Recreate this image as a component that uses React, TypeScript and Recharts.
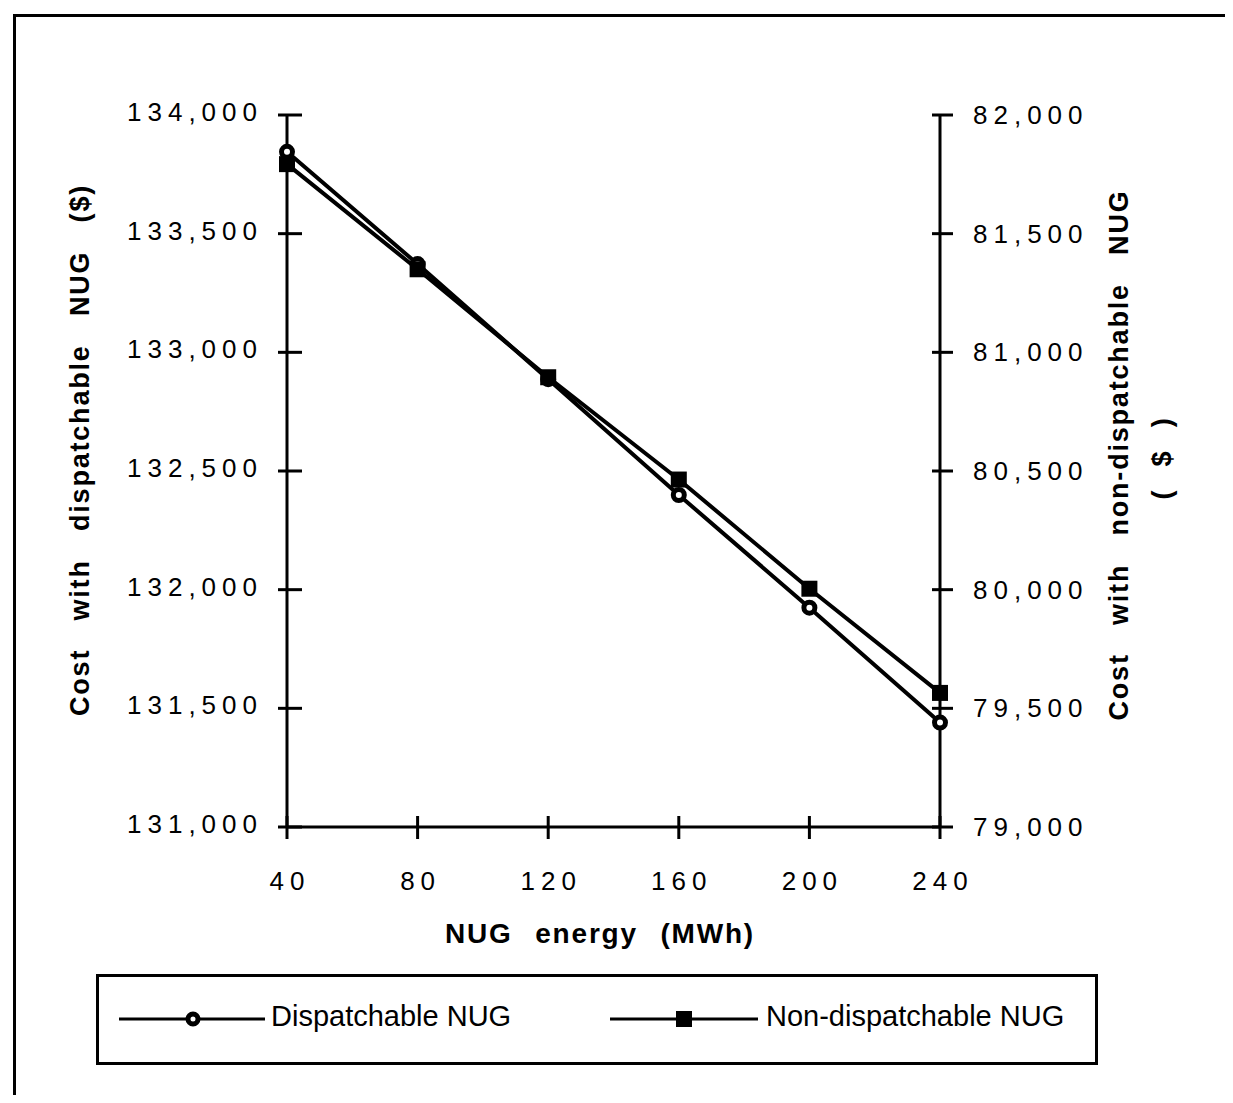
import React from "react";
import { LineChart, Line, XAxis, YAxis, Label } from "recharts";

const energy = [40, 80, 120, 160, 200, 240];
const dispatchable = [133845, 133372, 132887, 132399, 131924, 131440];
const nonDispatchable = [81793, 81350, 80895, 80464, 80004, 79565];

const leftTicks = [131000, 131500, 132000, 132500, 133000, 133500, 134000];
const rightTicks = [79000, 79500, 80000, 80500, 81000, 81500, 82000];

const data = energy.map((e, i) => ({
  energy: e,
  dispatchable: dispatchable[i],
  nonDispatchable: nonDispatchable[i],
}));

const FONT = '"Liberation Sans", Arial, sans-serif';
const fmt = (v: number) => v.toLocaleString("en-US");

function LeftTick({ x, y, payload }: any) {
  return (
    <g>
      <line x1={x - 9} x2={x + 15} y1={y} y2={y} stroke="#000" strokeWidth={3} />
      <text x={x - 24} y={y} dy={6} textAnchor="end" fontFamily={FONT} fontSize={26} letterSpacing={6} fill="#000">
        {fmt(payload.value)}
      </text>
    </g>
  );
}

function RightTick({ x, y, payload }: any) {
  return (
    <g>
      <line x1={x - 8} x2={x + 13} y1={y} y2={y} stroke="#000" strokeWidth={3} />
      <text x={x + 33} y={y} dy={9} textAnchor="start" fontFamily={FONT} fontSize={26} letterSpacing={6} fill="#000">
        {fmt(payload.value)}
      </text>
    </g>
  );
}

function BottomTick({ x, y, payload }: any) {
  return (
    <g>
      <line x1={x} x2={x} y1={y - 11} y2={y + 12} stroke="#000" strokeWidth={3} />
      <text x={x + 3} y={y} dy={63} textAnchor="middle" fontFamily={FONT} fontSize={26} letterSpacing={6} fill="#000">
        {payload.value}
      </text>
    </g>
  );
}

function CircleDot({ cx, cy }: any) {
  return <circle cx={cx} cy={cy} r={5.5} fill="#fff" stroke="#000" strokeWidth={5} />;
}

function SquareDot({ cx, cy }: any) {
  return <rect x={cx - 8} y={cy - 8} width={16} height={16} fill="#000" />;
}

const titleStyle = {
  fontFamily: FONT,
  fontSize: 27,
  fontWeight: 700,
  letterSpacing: 1.8,
  wordSpacing: 13,
};

export default function App() {
  return (
    <div style={{ position: "relative", width: 1233, height: 1103, margin: -8, background: "#fff", overflow: "hidden" }}>
      <div
        style={{
          position: "absolute",
          left: 13,
          top: 14,
          width: 1300,
          height: 1200,
          borderTop: "3px solid #000",
          borderLeft: "3px solid #000",
        }}
      />
      <div style={{ position: "absolute", left: 0, top: 0 }}>
        <LineChart width={1233} height={1103} data={data} margin={{ top: 115, left: 137, right: 143, bottom: 216 }}>
          <XAxis
            dataKey="energy"
            type="number"
            domain={[40, 240]}
            ticks={energy}
            tick={<BottomTick />}
            tickSize={0}
            tickMargin={0}
            tickLine={false}
            axisLine={{ stroke: "#000", strokeWidth: 3 }}
            height={60}
          >
            <Label
              content={() => (
                <text x={600} y={943} textAnchor="middle" fill="#000" style={{ ...titleStyle, fontSize: 28 }}>
                  NUG energy (MWh)
                </text>
              )}
            />
          </XAxis>
          <YAxis
            yAxisId="left"
            orientation="left"
            domain={[131000, 134000]}
            ticks={leftTicks}
            tick={<LeftTick />}
            tickSize={0}
            tickMargin={0}
            tickLine={false}
            axisLine={{ stroke: "#000", strokeWidth: 3 }}
            width={150}
          >
            <Label
              content={() => (
                <text
                  transform="translate(89,450) rotate(-90)"
                  textAnchor="middle"
                  fill="#000"
                  style={{ ...titleStyle, wordSpacing: 19 }}
                >
                  Cost with dispatchable NUG ($)
                </text>
              )}
            />
          </YAxis>
          <YAxis
            yAxisId="right"
            orientation="right"
            domain={[79000, 82000]}
            ticks={rightTicks}
            tick={<RightTick />}
            tickSize={0}
            tickMargin={0}
            tickLine={false}
            axisLine={{ stroke: "#000", strokeWidth: 3 }}
            width={150}
          >
            <Label
              content={() => (
                <g>
                  <text
                    transform="translate(1128,455) rotate(-90)"
                    textAnchor="middle"
                    fill="#000"
                    style={{ ...titleStyle, wordSpacing: 19 }}
                  >
                    Cost with non-dispatchable NUG
                  </text>
                  <text transform="translate(1171,458) rotate(-90)" textAnchor="middle" fill="#000" style={titleStyle}>
                    ( $ )
                  </text>
                </g>
              )}
            />
          </YAxis>
          <Line
            yAxisId="left"
            dataKey="dispatchable"
            stroke="#000"
            strokeWidth={4}
            dot={<CircleDot />}
            activeDot={false}
            isAnimationActive={false}
          />
          <Line
            yAxisId="right"
            dataKey="nonDispatchable"
            stroke="#000"
            strokeWidth={4}
            dot={<SquareDot />}
            activeDot={false}
            isAnimationActive={false}
          />
        </LineChart>
      </div>
      <div
        style={{
          position: "absolute",
          left: 96,
          top: 974,
          width: 996,
          height: 85,
          border: "3px solid #000",
          fontFamily: FONT,
          fontSize: 29,
        }}
      >
        <svg style={{ position: "absolute", left: 20, top: 30 }} width={146} height={24}>
          <line x1={0} x2={146} y1={12} y2={12} stroke="#000" strokeWidth={3} />
          <circle cx={74} cy={12} r={5} fill="#fff" stroke="#000" strokeWidth={5} />
        </svg>
        <span style={{ position: "absolute", left: 172, top: 23 }}>Dispatchable NUG</span>
        <svg style={{ position: "absolute", left: 511, top: 30 }} width={148} height={24}>
          <line x1={0} x2={148} y1={12} y2={12} stroke="#000" strokeWidth={3} />
          <rect x={66} y={4} width={16} height={16} fill="#000" />
        </svg>
        <span style={{ position: "absolute", left: 667, top: 23 }}>Non-dispatchable NUG</span>
      </div>
    </div>
  );
}
